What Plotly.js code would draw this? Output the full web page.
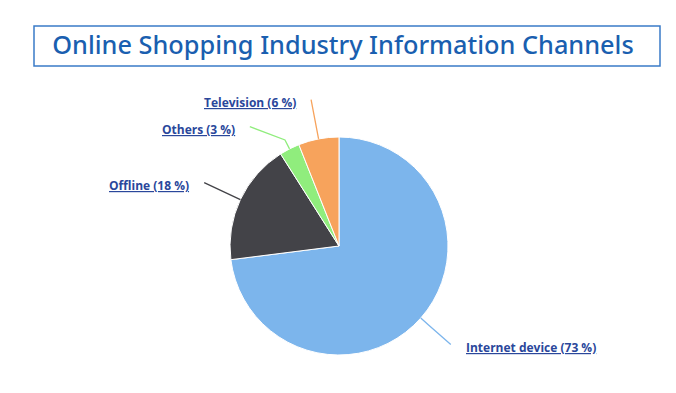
<!DOCTYPE html>
<html>
<head>
<meta charset="utf-8">
<script src="https://cdn.plot.ly/plotly-3.0.1.min.js"></script>
<style>html,body{margin:0;padding:0;background:#fff;}#chart{width:676px;height:393px;}</style>
</head>
<body>
<div id="chart"></div>
<script>
// ---- data ----
const categories = ["Internet device", "Offline", "Others", "Television"];
const shares = [73, 18, 3, 6];
const sliceColors = ["#7cb5ec", "#434348", "#90ed7d", "#f7a35c"];
const chartTitle = "Online Shopping Industry Information Channels";

// ---- geometry (pixels) ----
const W = 676, H = 393;
const cx = 339, cy = 246, r = 109;
const labelDist = 40, labelGap = 13, minSpacing = 27;

const total = shares.reduce((a, b) => a + b, 0);
const px = x => x / W, py = y => 1 - y / H;

// compute slice mid angles and label positions
let cum = 0;
const items = shares.map((v, i) => {
  const mid = (cum + v / 2) / total * 2 * Math.PI;
  cum += v;
  const dx = Math.sin(mid), dy = -Math.cos(mid);
  const R = r + labelDist;
  return { i, dx, dy, side: dx >= 0 ? 1 : -1, y: cy + dy * R, R };
});
[1, -1].forEach(side => {
  const grp = items.filter(o => o.side === side).sort((a, b) => a.y - b.y);
  for (let k = 1; k < grp.length; k++) {
    if (grp[k].y - grp[k - 1].y < minSpacing) grp[k].y = grp[k - 1].y + minSpacing;
  }
  grp.forEach(o => {
    const d = o.y - cy;
    o.x = cx + side * Math.sqrt(Math.max(0, o.R * o.R - d * d));
  });
});

const annotations = [];
const shapes = [];
items.forEach(o => {
  const edge = [cx + o.dx * r, cy + o.dy * r];
  const bend = [cx + o.dx * (r + 10), cy + o.dy * (r + 10)];
  shapes.push({
    type: "path", xref: "paper", yref: "paper",
    path: `M${px(o.x)},${py(o.y)} L${px(bend[0])},${py(bend[1])} L${px(edge[0])},${py(edge[1])}`,
    line: { color: sliceColors[o.i], width: 1.3 }
  });
  annotations.push({
    xref: "paper", yref: "paper",
    x: px(o.x + o.side * labelGap), y: py(o.y + 3),
    xanchor: o.side > 0 ? "left" : "right", yanchor: "middle",
    showarrow: false,
    text: `${categories[o.i]} (${shares[o.i]} %)`,
    font: { family: "Open Sans", size: 12, color: "#2a479b", weight: 700, lineposition: "under" }
  });
});

// title box
shapes.push({
  type: "rect", xref: "paper", yref: "paper",
  x0: px(34), x1: px(660), y0: py(66), y1: py(26),
  line: { color: "#3a7bc8", width: 1.5 }
});

const trace = {
  type: "pie",
  labels: categories,
  values: shares,
  sort: false,
  direction: "clockwise",
  rotation: 0,
  marker: { colors: sliceColors, line: { color: "#ffffff", width: 1 } },
  textinfo: "none",
  hoverinfo: "label+percent",
  domain: { x: [px(cx - r), px(cx + r)], y: [py(cy + r), py(cy - r)] }
};

const layout = {
  width: W, height: H,
  margin: { l: 0, r: 0, t: 0, b: 0 },
  paper_bgcolor: "#ffffff",
  showlegend: false,
  title: {
    text: chartTitle,
    font: { family: "Noto Sans", size: 25.3, color: "#1a5fb0", weight: 500 },
    x: px(343), xanchor: "center", y: py(45), yanchor: "middle", xref: "paper", yref: "paper"
  },
  shapes, annotations
};

Plotly.newPlot("chart", [trace], layout, { displayModeBar: false, staticPlot: true });
</script>
</body>
</html>
